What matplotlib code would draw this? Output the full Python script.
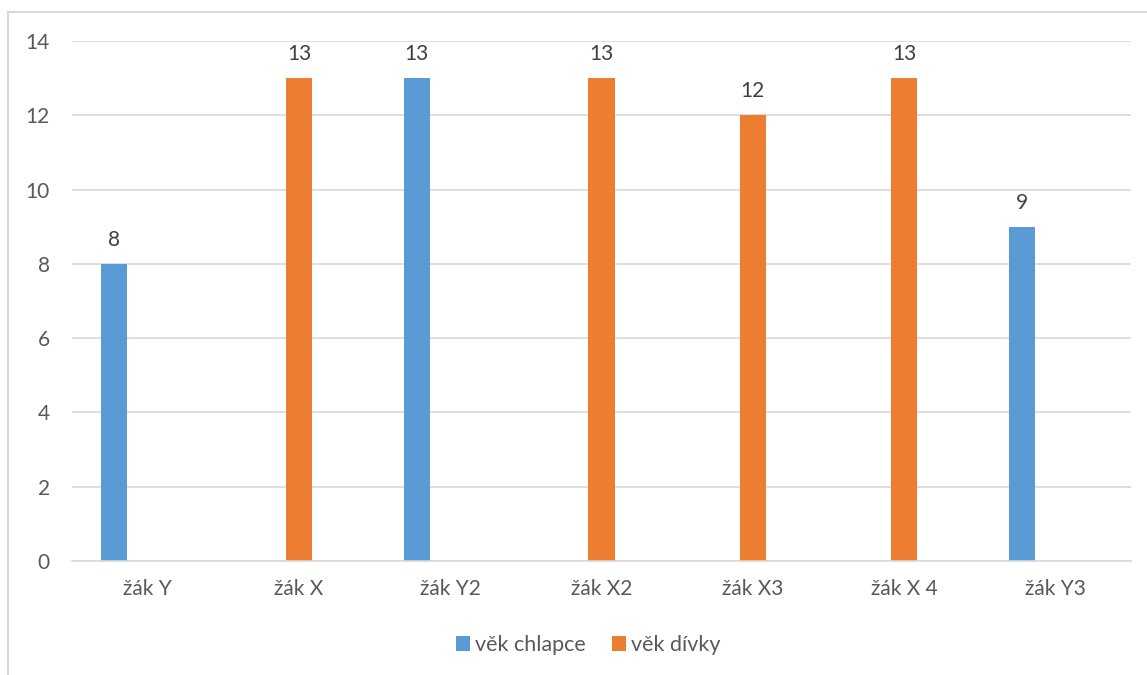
import numpy as np
import matplotlib
matplotlib.use("Agg")
import matplotlib.pyplot as plt
from matplotlib.lines import Line2D
from matplotlib.patches import Patch

plt.rcParams['font.family'] = ['Lato', 'DejaVu Sans']

categories = ["žák Y", "žák X", "žák Y2", "žák X2", "žák X3", "žák X 4", "žák Y3"]
boys_age = [8, None, 13, None, None, None, 9]
girls_age = [None, 13, None, 13, 12, 13, None]
series_names = ["věk chlapce", "věk dívky"]
y_ticks = [0, 2, 4, 6, 8, 10, 12, 14]

BLUE = "#5B9BD5"
ORANGE = "#ED7D31"
GRID = "#D9D9D9"
TEXT = "#595959"
LABEL = "#404040"
FS = 15

W, H = 1147, 675
fig = plt.figure(figsize=(W / 100, H / 100), dpi=100)
ax = fig.add_axes([72 / W, 1 - 561 / H, (1131 - 72) / W, (561 - 41) / H])

bar_w = 0.174
step = 0.221
x = np.arange(len(categories))

def draw_series(values, offset, color):
    for xi, v in zip(x, values):
        if v is None:
            continue
        ax.bar(xi + offset, v, width=bar_w, color=color, zorder=3)
        ax.annotate(f"{v}", (xi + offset, v), xytext=(0, 10), textcoords="offset points",
                    ha="center", va="bottom", fontsize=FS, color=LABEL)

draw_series(boys_age, -step, BLUE)
draw_series(girls_age, 0.0, ORANGE)

ax.set_xlim(-0.5, len(categories) - 0.5)
ax.set_ylim(0, 14)
ax.set_yticks(y_ticks)
ax.set_xticks(x)
ax.set_xticklabels(categories)
ax.yaxis.grid(True, color=GRID, linewidth=1.2, zorder=0)
ax.set_axisbelow(True)
for s in ["top", "right", "left"]:
    ax.spines[s].set_visible(False)
ax.spines["bottom"].set_color(GRID)
ax.spines["bottom"].set_linewidth(1.2)
ax.spines["bottom"].set_zorder(4)
ax.tick_params(axis="both", length=0, labelsize=FS, colors=TEXT)
ax.tick_params(axis="y", pad=16)
ax.tick_params(axis="x", pad=13)

handles = [Patch(facecolor=BLUE, label=series_names[0]),
           Patch(facecolor=ORANGE, label=series_names[1])]
leg = fig.legend(handles=handles, loc="center", bbox_to_anchor=(588 / W, 1 - 645 / H),
                 ncol=2, frameon=False, fontsize=15.5, handlelength=0.65, handleheight=0.65,
                 handletextpad=0.25, columnspacing=1.2, labelcolor=TEXT)

# chart frame
fx = 8 / W
fy = 1 - 11.7 / H
fig.add_artist(Line2D([fx, 1], [fy, fy], transform=fig.transFigure, color=GRID, linewidth=1.5))
fig.add_artist(Line2D([fx, fx], [0, fy], transform=fig.transFigure, color=GRID, linewidth=1.5))

fig.savefig("out.png", dpi=100, facecolor="white")
